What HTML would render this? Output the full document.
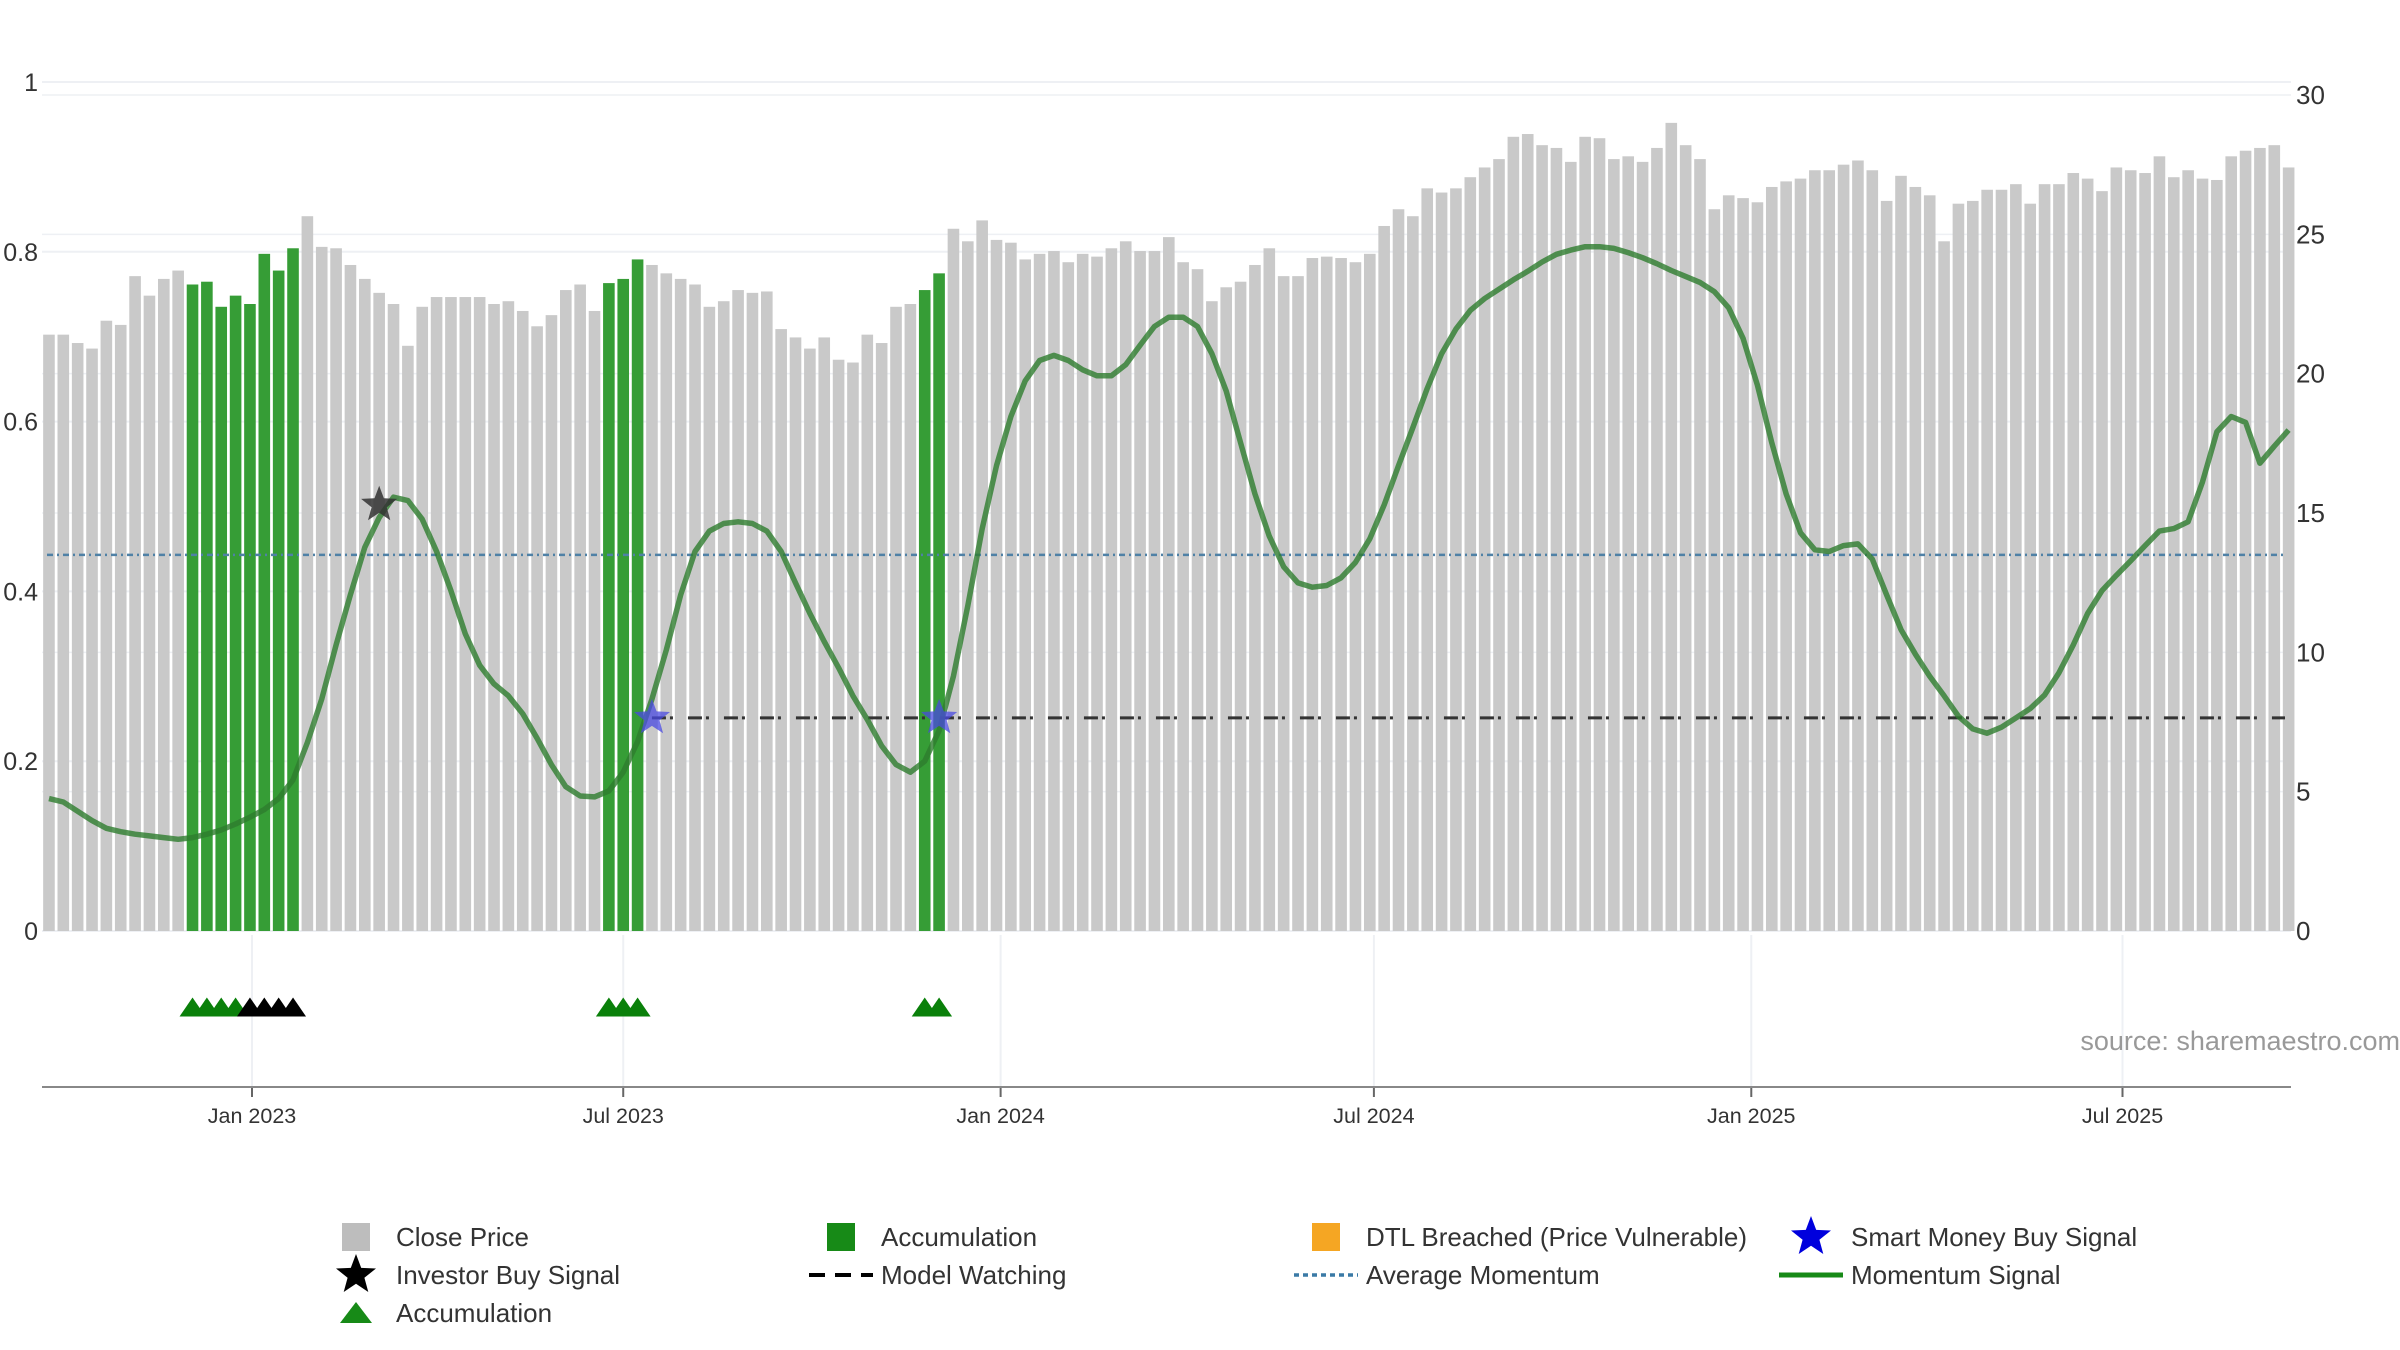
<!DOCTYPE html>
<html><head><meta charset="utf-8"><style>
html,body{margin:0;padding:0;background:#fff;}
svg{display:block;font-family:"Liberation Sans","DejaVu Sans",sans-serif;}
</style></head><body>
<svg id="chart" width="2400" height="1350" viewBox="0 0 2400 1350"></svg>
<script>
const closePrice=[21.4,21.4,21.1,20.9,21.9,21.75,23.5,22.8,23.4,23.7,23.2,23.3,22.4,22.8,22.5,24.3,23.7,24.5,25.65,24.55,24.5,23.9,23.4,22.9,22.5,21.0,22.4,22.75,22.75,22.75,22.75,22.5,22.6,22.25,21.7,22.1,23.0,23.2,22.25,23.25,23.4,24.1,23.9,23.6,23.4,23.2,22.4,22.6,23.0,22.9,22.95,21.6,21.3,20.9,21.3,20.5,20.4,21.4,21.1,22.4,22.5,23.0,23.6,25.2,24.75,25.5,24.8,24.7,24.1,24.3,24.4,24.0,24.3,24.2,24.5,24.75,24.4,24.4,24.9,24.0,23.75,22.6,23.1,23.3,23.9,24.5,23.5,23.5,24.15,24.2,24.15,24.0,24.3,25.3,25.9,25.65,26.65,26.5,26.65,27.05,27.4,27.7,28.5,28.6,28.2,28.1,27.6,28.5,28.45,27.7,27.8,27.6,28.1,29.0,28.2,27.7,25.9,26.4,26.3,26.15,26.7,26.9,27.0,27.3,27.3,27.5,27.65,27.3,26.2,27.1,26.7,26.4,24.75,26.1,26.2,26.6,26.6,26.8,26.1,26.8,26.8,27.2,27.0,26.55,27.4,27.3,27.2,27.8,27.05,27.3,27.0,26.95,27.8,28.0,28.1,28.2,27.4];
const accumulationIdx=[10,11,12,13,14,15,16,17,39,40,41,61,62];
const momentum=[0.156,0.152,0.141,0.13,0.121,0.117,0.114,0.112,0.11,0.108,0.11,0.114,0.119,0.126,0.134,0.143,0.156,0.178,0.222,0.273,0.337,0.396,0.452,0.487,0.511,0.507,0.485,0.447,0.401,0.35,0.313,0.291,0.277,0.256,0.227,0.196,0.17,0.159,0.158,0.165,0.187,0.223,0.273,0.331,0.396,0.447,0.471,0.48,0.482,0.48,0.471,0.447,0.41,0.374,0.341,0.31,0.277,0.249,0.218,0.196,0.187,0.2,0.236,0.3,0.383,0.474,0.548,0.606,0.648,0.672,0.678,0.672,0.661,0.654,0.654,0.667,0.69,0.712,0.723,0.723,0.712,0.68,0.636,0.575,0.515,0.465,0.429,0.41,0.405,0.407,0.416,0.434,0.462,0.502,0.548,0.593,0.639,0.68,0.709,0.731,0.745,0.756,0.767,0.777,0.788,0.797,0.802,0.806,0.806,0.804,0.799,0.793,0.786,0.778,0.771,0.764,0.753,0.734,0.698,0.643,0.575,0.515,0.469,0.449,0.447,0.454,0.456,0.438,0.396,0.355,0.326,0.3,0.277,0.253,0.238,0.233,0.24,0.251,0.262,0.278,0.304,0.337,0.374,0.401,0.419,0.436,0.454,0.471,0.474,0.482,0.529,0.588,0.606,0.599,0.551,0.571,0.59];
const avgMomentum=0.443;
const modelWatching=0.251, modelWatchStart=42;
const investorStars=[{i:23,v:0.502}];
const smartStars=[{i:42,v:0.251},{i:62,v:0.251}];
const triGreen=[10,11,12,13,39,40,41,61,62];
const triBlack=[14,15,16,17];
const leftTicks=[0,0.2,0.4,0.6,0.8,1];
const rightTicks=[0,5,10,15,20,25,30];
const monthTicks=[["2023-01-01","Jan 2023"],["2023-07-01","Jul 2023"],["2024-01-01","Jan 2024"],["2024-07-01","Jul 2024"],["2025-01-01","Jan 2025"],["2025-07-01","Jul 2025"]];
const startDate="2022-09-24";

const NS="http://www.w3.org/2000/svg";
const svg=document.getElementById('chart');
function mk(t,a,p){const e=document.createElementNS(NS,t);for(const k in a)e.setAttribute(k,a[k]);(p||svg).appendChild(e);return e;}
const X0=42,X1=2291,Y0=931,YL1=82,YR1=95;
const day=86400000, t0=Date.parse(startDate), tJan=Date.parse("2023-01-01");
const pxDay=2.051;
function xDate(ms){return 252+(ms-tJan)/day*pxDay;}
function xIdx(i){return xDate(t0+i*7*day);}
function yL(v){return Y0-v*(Y0-YL1);}
function yR(v){return Y0-v*(Y0-YR1)/30;}

leftTicks.forEach(v=>{const l=mk('line',{x1:X0,x2:X1,y1:yL(v),y2:yL(v),stroke:'#eef0f4','stroke-width':2});

const t=mk('text',{x:38,y:yL(v)+9,'text-anchor':'end','font-size':25,fill:'#333'});t.textContent=String(v);
});
rightTicks.forEach(v=>{const l=mk('line',{x1:X0,x2:X1,y1:yR(v),y2:yR(v),stroke:'#eef0f4','stroke-width':1.5});

const t=mk('text',{x:2296,y:yR(v)+9,'font-size':26,fill:'#333'});t.textContent=String(v);
});
monthTicks.forEach(m=>{const x=xDate(Date.parse(m[0]));
const l=mk('line',{x1:x,x2:x,y1:935,y2:1087,stroke:'#eef0f4','stroke-width':2});

const tk=mk('line',{x1:x,x2:x,y1:1087,y2:1097,stroke:'#666','stroke-width':2});

const t=mk('text',{x:x,y:1123,'text-anchor':'middle','font-size':21.5,fill:'#333'});t.textContent=m[1];
});

const bw=11.6;
closePrice.forEach((v,i)=>{const acc=accumulationIdx.includes(i);const x=xIdx(i);
const r=mk('rect',{x:x-bw/2,y:yR(v),width:bw,height:Y0-yR(v),fill:acc?'#2f9a2f':'#c6c6c6','fill-opacity':acc?0.97:0.95});
});

const am=mk('line',{x1:X0+5,x2:2287,y1:yL(avgMomentum),y2:yL(avgMomentum),stroke:'#4f81a6','stroke-width':2.5,'stroke-dasharray':'6,4,2,4'});

const mw=mk('line',{x1:xIdx(modelWatchStart),x2:2285,y1:yL(modelWatching),y2:yL(modelWatching),stroke:'#333','stroke-width':3,'stroke-dasharray':'14,4,3,15'});

const pts=momentum.map((v,i)=>xIdx(i).toFixed(1)+','+yL(v).toFixed(1)).join(' ');
const ml=mk('polyline',{points:pts,fill:'none',stroke:'#2e7d2e','stroke-opacity':0.8,'stroke-width':5.5,'stroke-linejoin':'round'});


function starPts(cx,cy,R){const r=R*0.42;let p=[];for(let k=0;k<10;k++){const a=-Math.PI/2+k*Math.PI/5;const rr=k%2?r:R;p.push((cx+rr*Math.cos(a)).toFixed(1)+','+(cy+rr*Math.sin(a)).toFixed(1));}return p.join(' ');}
investorStars.forEach(s=>{const e=mk('polygon',{points:starPts(xIdx(s.i),yL(s.v),19),fill:'#333','fill-opacity':0.85});
});
smartStars.forEach(s=>{const e=mk('polygon',{points:starPts(xIdx(s.i),yL(s.v),19),fill:'#4a4ae0','fill-opacity':0.75});
});

function tri(cx,cy,w,h,c){return mk('polygon',{points:`${cx-w/2},${cy+h/2} ${cx},${cy-h/2} ${cx+w/2},${cy+h/2}`,fill:c});}
triGreen.forEach(i=>{const e=tri(xIdx(i),1007,26,19,'#0a800a');});
triBlack.forEach(i=>{const e=tri(xIdx(i),1007,26,19,'#000');});

const ax=mk('line',{x1:X0,x2:X1,y1:1087,y2:1087,stroke:'#888','stroke-width':2});

const src=mk('text',{x:2400,y:1050,'text-anchor':'end','font-size':27,fill:'#999'});src.textContent='source: sharemaestro.com';


const leg=[
 [356,1237,'sq','#bdbdbd','Close Price'],[841,1237,'sq','#178a17','Accumulation'],[1326,1237,'sq','#f5a623','DTL Breached (Price Vulnerable)'],[1811,1237,'star','#0000dd','Smart Money Buy Signal'],
 [356,1275,'star','#000','Investor Buy Signal'],[841,1275,'dash','#000','Model Watching'],[1326,1275,'dot','#3a7aa6','Average Momentum'],[1811,1275,'line','#178a17','Momentum Signal'],
 [356,1313,'tri','#178a17','Accumulation']];
leg.forEach(l=>{const [x,y,k,c,label]=l;const g=mk('g',{});
if(k==='sq')mk('rect',{x:x-14,y:y-14,width:28,height:28,fill:c},g);
if(k==='star')mk('polygon',{points:starPts(x,y,21),fill:c},g);
if(k==='dash')mk('line',{x1:x-32,x2:x+32,y1:y,y2:y,stroke:c,'stroke-width':4,'stroke-dasharray':'16,10'},g);
if(k==='dot')mk('line',{x1:x-32,x2:x+32,y1:y,y2:y,stroke:c,'stroke-width':3.5,'stroke-dasharray':'5,4'},g);
if(k==='line')mk('line',{x1:x-32,x2:x+32,y1:y,y2:y,stroke:c,'stroke-width':5},g);
if(k==='tri')mk('polygon',{points:`${x-16},${y+10} ${x},${y-11} ${x+16},${y+10}`,fill:c},g);
const t=mk('text',{x:x+40,y:y+9,'font-size':26,fill:'#333'},g);t.textContent=label;});
</script>
</body></html>
